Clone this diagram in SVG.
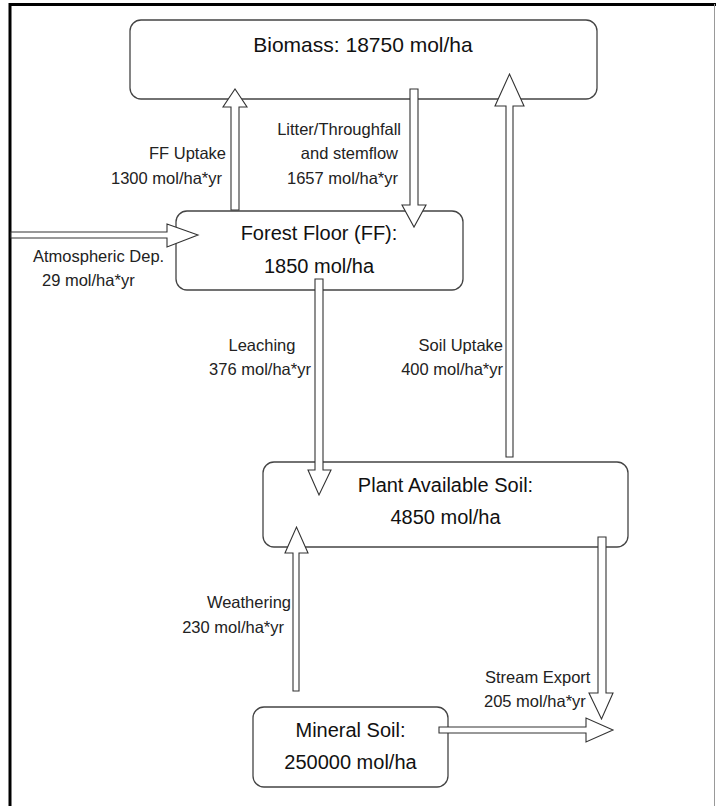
<svg xmlns="http://www.w3.org/2000/svg" width="716" height="806" viewBox="0 0 716 806">
<style>
.box{fill:#fff;stroke:#444;stroke-width:1.3}
.arr{fill:#fff;stroke:#333;stroke-width:1.1;stroke-linejoin:miter}
.t{font-family:"Liberation Sans",Arial,sans-serif;font-size:20px;fill:#111;text-anchor:middle}
.l{font-family:"Liberation Sans",Arial,sans-serif;font-size:16.5px;fill:#222}
.e{text-anchor:end}
.m{text-anchor:middle}
</style>
<rect x="0" y="0" width="716" height="806" fill="#fff"/>
<g id="frame">
<line x1="9" y1="4.5" x2="716" y2="4.5" stroke="#000" stroke-width="3"/>
<line x1="10" y1="3" x2="10" y2="806" stroke="#000" stroke-width="3"/>
<line x1="714.5" y1="4" x2="714.5" y2="806" stroke="#999" stroke-width="1"/>
</g>
<g id="biomass">
<rect class="box" x="130" y="20" width="467" height="79" rx="11"/>
<text class="t" x="363" y="52" style="font-size:21px">Biomass: 18750 mol/ha</text>
</g>
<g id="forest-floor">
<rect class="box" x="176" y="211" width="287" height="79" rx="11"/>
<text class="t" x="319" y="240">Forest Floor (FF):</text>
<text class="t" x="319" y="273">1850 mol/ha</text>
</g>
<g id="plant-available-soil">
<rect class="box" x="263" y="462" width="365" height="85" rx="11"/>
<text class="t" x="445.5" y="492">Plant Available Soil:</text>
<text class="t" x="445.5" y="524">4850 mol/ha</text>
</g>
<g id="mineral-soil">
<rect class="box" x="253" y="707" width="195" height="80" rx="11"/>
<text class="t" x="350.5" y="737">Mineral Soil:</text>
<text class="t" x="350.5" y="769">250000 mol/ha</text>
</g>
<g id="connectors">
<polygon class="arr" points="231,210 231,107 223,107 235,89 247,107 239,107 239,210"/>
<polygon class="arr" points="410,89 418,89 418,205 426,205 414,227 402,205 410,205"/>
<polygon class="arr" points="11,232 167,232 167,224 198,235 167,247 167,238 11,238"/>
<polygon class="arr" points="315,279 323,279 323,470 331,470 319,495 308,470 315,470"/>
<polygon class="arr" points="506,457 506,106 495,106 509.5,74 524,106 513,106 513,457"/>
<polygon class="arr" points="293,691 293,553 285,553 296.5,527 308,553 299,553 299,691"/>
<polygon class="arr" points="598,537 606,537 606,693 613,693 601.5,719 589,693 598,693"/>
<polygon class="arr" points="439,727 586,727 586,718 613,730 586,742 586,733 439,733"/>
</g>
<g id="labels">
<text class="l e" x="226" y="159">FF Uptake</text>
<text class="l e" x="222" y="184">1300 mol/ha*yr</text>
<text class="l e" x="401" y="135">Litter/Throughfall</text>
<text class="l e" x="398" y="159">and stemflow</text>
<text class="l e" x="398" y="184">1657 mol/ha*yr</text>
<text class="l" x="33" y="262">Atmospheric Dep.</text>
<text class="l" x="42" y="286">29 mol/ha*yr</text>
<text class="l m" x="262" y="351">Leaching</text>
<text class="l m" x="260" y="375">376 mol/ha*yr</text>
<text class="l e" x="503" y="351">Soil Uptake</text>
<text class="l e" x="503" y="375">400 mol/ha*yr</text>
<text class="l e" x="291" y="608">Weathering</text>
<text class="l e" x="284" y="633">230 mol/ha*yr</text>
<text class="l" x="485" y="683">Stream Export</text>
<text class="l" x="484" y="707">205 mol/ha*yr</text>
</g>
</svg>
